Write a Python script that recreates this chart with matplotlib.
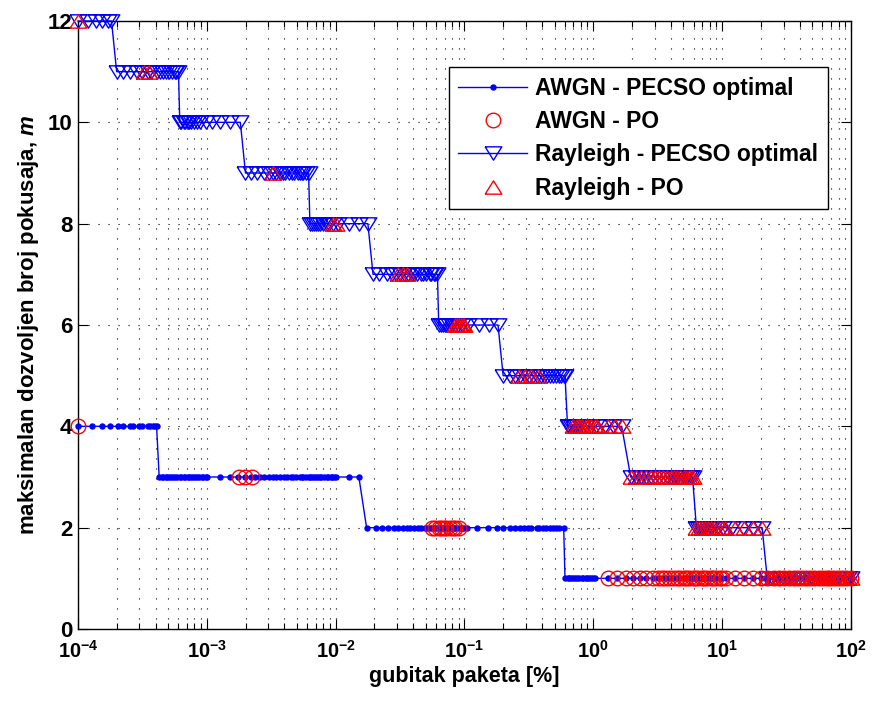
import numpy as np
import matplotlib
matplotlib.use("Agg")
import matplotlib.pyplot as plt
from matplotlib.ticker import LogLocator, NullLocator, FuncFormatter, FixedLocator

plt.rcParams['font.family'] = ['Liberation Sans', 'DejaVu Sans']
plt.rcParams['font.weight'] = 'bold'
plt.rcParams['mathtext.fontset'] = 'custom'
plt.rcParams['mathtext.rm'] = 'Liberation Sans:bold'
plt.rcParams['mathtext.it'] = 'Liberation Sans:italic:bold'
plt.rcParams['mathtext.bf'] = 'Liberation Sans:bold'
plt.rcParams['mathtext.default'] = 'rm'

# ---------------- data (log10 of packet loss in %, per level of m) ----------------
awgn_opt_levels = [4, 3, 2, 1]
awgn_opt_logx = [
    [-4.00, -3.89, -3.81, -3.75, -3.69, -3.65, -3.60, -3.57, -3.53, -3.50, -3.46, -3.44, -3.42, -3.40, -3.39],
    [-3.37, -3.35, -3.34, -3.32, -3.31, -3.29, -3.28, -3.26, -3.25, -3.23, -3.21, -3.20, -3.18, -3.17, -3.15,
     -3.14, -3.12, -3.11, -3.09, -3.08, -3.06, -3.04, -3.03, -3.01, -3.00,
     -2.90, -2.82, -2.76, -2.70, -2.66, -2.63, -2.59,
     -2.56, -2.52, -2.49, -2.46, -2.43, -2.40, -2.38, -2.35, -2.33, -2.31, -2.28, -2.26, -2.25, -2.23, -2.21,
     -2.20, -2.18, -2.17, -2.15, -2.14, -2.12, -2.11, -2.09, -2.07, -2.06, -2.04, -2.03, -2.01, -2.00,
     -1.90, -1.82],
    [-1.76, -1.69, -1.64, -1.59, -1.55, -1.52, -1.48, -1.45, -1.42, -1.39, -1.36, -1.34, -1.31,
     -1.29, -1.27, -1.25, -1.24, -1.22, -1.20, -1.19, -1.17, -1.16, -1.14, -1.13, -1.11, -1.10, -1.08,
     -1.07, -1.05, -1.03, -1.02, -1.00, -0.98,
     -0.90, -0.82, -0.75, -0.70, -0.65, -0.61, -0.57, -0.54, -0.51, -0.48, -0.44, -0.42, -0.39, -0.37,
     -0.34, -0.31, -0.29, -0.27, -0.23],
    [-0.22, -0.20, -0.19, -0.17, -0.16, -0.14, -0.13, -0.11, -0.09, -0.08, -0.06, -0.05, -0.03, -0.02,
     0.00, 0.01, 0.11, 0.18, 0.25, 0.31, 0.36, 0.41, 0.46, 0.50, 0.53, 0.56, 0.59, 0.62, 0.65, 0.67,
     0.70, 0.72, 0.74, 0.77, 0.79, 0.81, 0.84, 0.86, 0.88, 0.91, 0.93, 0.95, 0.98, 1.00, 1.03, 1.10,
     1.17, 1.24, 1.30, 1.35, 1.40, 1.44, 1.48, 1.52, 1.56, 1.59, 1.62, 1.65, 1.68, 1.71, 1.75, 1.78,
     1.81, 1.84, 1.87, 1.90, 1.93, 1.96, 2.00],
]

awgn_po_levels = [4, 3, 2, 1]
awgn_po_logx = [
    [-4.00],
    [-2.75, -2.70, -2.65],
    [-1.25, -1.23, -1.20, -1.18, -1.16, -1.14, -1.11, -1.09, -1.07, -1.04],
    [0.11, 0.18, 0.25, 0.31, 0.36, 0.41, 0.46, 0.50, 0.53, 0.56, 0.59, 0.62, 0.65, 0.67, 0.70, 0.72,
     0.74, 0.77, 0.79, 0.81, 0.84, 0.86, 0.88, 0.91, 0.93, 0.95, 0.98, 1.00, 1.03, 1.10, 1.17, 1.24,
     1.30, 1.35, 1.40, 1.44, 1.48, 1.52, 1.56, 1.59, 1.62, 1.65, 1.68, 1.71, 1.75, 1.78, 1.81, 1.84,
     1.87, 1.90, 1.93, 1.96, 2.00],
]

ray_opt_levels = [12, 11, 10, 9, 8, 7, 6, 5, 4, 3, 2, 1]
ray_opt_logx = [
    [-4.00, -3.92, -3.86, -3.81, -3.77, -3.74],
    [-3.70, -3.65, -3.60, -3.54, -3.50, -3.46, -3.43, -3.39, -3.36, -3.34, -3.32, -3.29, -3.27, -3.25, -3.24, -3.22],
    [-3.21, -3.20, -3.18, -3.17, -3.15, -3.14, -3.12, -3.10, -3.08, -3.05, -3.01, -2.96, -2.90, -2.82, -2.74],
    [-2.70, -2.66, -2.61, -2.56, -2.52, -2.49, -2.46, -2.43, -2.41, -2.39, -2.36, -2.34, -2.32, -2.29,
     -2.28, -2.26, -2.25, -2.23, -2.21],
    [-2.20, -2.18, -2.17, -2.15, -2.14, -2.12, -2.10, -2.07, -2.05, -2.02, -1.98, -1.90, -1.82, -1.75],
    [-1.71, -1.66, -1.60, -1.56, -1.53, -1.50, -1.47, -1.44, -1.41, -1.39, -1.37, -1.34, -1.32, -1.30,
     -1.27, -1.26, -1.24, -1.23, -1.21],
    [-1.20, -1.18, -1.17, -1.15, -1.14, -1.12, -1.10, -1.07, -1.05, -1.02, -0.97, -0.89, -0.81, -0.74],
    [-0.70, -0.65, -0.61, -0.57, -0.53, -0.50, -0.47, -0.44, -0.41, -0.38, -0.36, -0.34, -0.31, -0.29,
     -0.27, -0.25, -0.23, -0.22],
    [-0.20, -0.19, -0.17, -0.16, -0.14, -0.13, -0.10, -0.08, -0.06, -0.02, 0.02, 0.09, 0.15, 0.22],
    [0.29, 0.33, 0.37, 0.41, 0.45, 0.48, 0.51, 0.54, 0.57, 0.60, 0.63, 0.65, 0.67, 0.70, 0.72, 0.74, 0.76, 0.77],
    [0.80, 0.81, 0.83, 0.84, 0.86, 0.87, 0.89, 0.91, 0.94, 0.97, 1.01, 1.08, 1.16, 1.24, 1.31],
    [1.35, 1.39, 1.43, 1.47, 1.50, 1.53, 1.56, 1.59, 1.62, 1.65, 1.68, 1.70, 1.72, 1.75, 1.77, 1.79,
     1.82, 1.84, 1.86, 1.89, 1.91, 1.93, 1.96, 1.98, 2.00],
]

ray_po_levels = [12, 11, 9, 8, 7, 6, 5, 4, 3, 2, 1]
ray_po_logx = [
    [-4.00],
    [-3.49, -3.45],
    [-2.49],
    [-2.02, -2.00],
    [-1.52, -1.48, -1.45],
    [-1.07, -1.06, -1.04, -1.03, -1.01, -1.00],
    [-0.58, -0.53, -0.48, -0.43],
    [-0.16, -0.13, -0.11, -0.09, -0.06, -0.04, -0.02, 0.01, 0.03, 0.11, 0.17, 0.22],
    [0.29, 0.33, 0.37, 0.41, 0.45, 0.48, 0.51, 0.54, 0.57, 0.60, 0.63, 0.65, 0.67, 0.70, 0.72, 0.74, 0.76, 0.77],
    [0.80, 0.82, 0.84, 0.87, 0.89, 0.91, 0.94, 0.97, 1.00, 1.02, 1.10, 1.17, 1.24, 1.31],
    [1.35, 1.39, 1.43, 1.47, 1.50, 1.53, 1.56, 1.59, 1.62, 1.65, 1.68, 1.70, 1.72, 1.75, 1.77, 1.79,
     1.82, 1.84, 1.86, 1.89, 1.91, 1.93, 1.96, 1.98, 2.00],
]

series_labels = ["AWGN - PECSO optimal", "AWGN - PO", "Rayleigh - PECSO optimal", "Rayleigh - PO"]
x_label = "gubitak paketa [%]"
y_label = r"maksimalan dozvoljen broj pokusaja, $\mathit{m}$"
y_ticks = [0, 2, 4, 6, 8, 10, 12]
x_tick_exps = [-4, -3, -2, -1, 0, 1, 2]


def build(segs, levels):
    xs, ys = [], []
    for lx, m in zip(segs, levels):
        xs.extend(10.0 ** np.asarray(lx))
        ys.extend([m] * len(lx))
    return np.asarray(xs), np.asarray(ys)


# slightly wide triangles (as in the reference rendering)
tri_down = [(-1.25, 1.0), (1.25, 1.0), (0.0, -1.0), (-1.25, 1.0)]
tri_up = [(-1.25, -1.0), (1.25, -1.0), (0.0, 1.0), (-1.25, -1.0)]

fig = plt.figure(figsize=(8.73, 7.03), dpi=100)
ax = fig.add_axes([78 / 873, 1 - 629 / 703, 773 / 873, 608 / 703])

x1, y1 = build(awgn_opt_logx, awgn_opt_levels)
x2, y2 = build(awgn_po_logx, awgn_po_levels)
x3, y3 = build(ray_opt_logx, ray_opt_levels)
x4, y4 = build(ray_po_logx, ray_po_levels)

blue = (0, 0, 1)
red = (1, 0, 0)
ax.plot(x1, y1, '-', color=blue, lw=1.0, marker='o', ms=3.6, mfc=blue, mec=blue,
        label=series_labels[0], clip_on=False, zorder=3)
ax.plot(x2, y2, ls='none', marker='o', color=red, ms=10.5, mfc='none', mec=red, mew=1.0,
        label=series_labels[1], clip_on=False, zorder=5)
ax.plot(x3, y3, '-', color=blue, lw=1.0, marker=tri_down, ms=12, mfc='none', mec=blue, mew=1.0,
        label=series_labels[2], clip_on=False, zorder=4)
ax.plot(x4, y4, ls='none', marker=tri_up, color=red, ms=12, mfc='none', mec=red, mew=1.0,
        label=series_labels[3], clip_on=False, zorder=6)

ax.set_xscale('log')
ax.set_xlim(1e-4, 1e2)
ax.set_ylim(0, 12)

ax.xaxis.set_major_locator(FixedLocator([10.0 ** e for e in x_tick_exps]))
ax.xaxis.set_minor_locator(LogLocator(base=10, subs=np.arange(2, 10), numticks=20))
ax.xaxis.set_major_formatter(FuncFormatter(lambda v, p: r"$\mathrm{10^{%d}}$" % int(round(np.log10(v)))))
ax.set_yticks(y_ticks)
ax.yaxis.set_minor_locator(NullLocator())

ax.tick_params(which='both', direction='in', top=True, right=True, width=0.8)
ax.tick_params(which='major', length=7)
ax.tick_params(which='minor', length=4)
ax.tick_params(axis='x', which='major', labelsize=14.5, pad=8)
ax.tick_params(axis='y', which='major', labelsize=16, pad=4)
for lab in ax.get_xticklabels() + ax.get_yticklabels():
    lab.set_fontweight('bold')

gstyle = dict(color='k', lw=0.8, linestyle=(0, (1, 8)))
ax.grid(True, which='major', axis='both', **gstyle)
ax.grid(True, which='minor', axis='x', **gstyle)
ax.set_axisbelow(True)
for s in ax.spines.values():
    s.set_linewidth(1.0)

ax.set_xlabel(x_label, fontsize=15.5, fontweight='bold', labelpad=3)
ax.set_ylabel(y_label, fontsize=16, fontweight='bold', labelpad=5)

leg = ax.legend(loc='upper right', bbox_to_anchor=(0.970, 0.924), fontsize=16.5, numpoints=1,
                handlelength=3.0, handletextpad=0.35, labelspacing=0.45, borderpad=0.42,
                borderaxespad=0.0, fancybox=False, framealpha=1, edgecolor='k')
leg.get_frame().set_linewidth(1.0)
for t in leg.get_texts():
    t.set_fontweight('bold')

fig.savefig("out.png", dpi=100)
